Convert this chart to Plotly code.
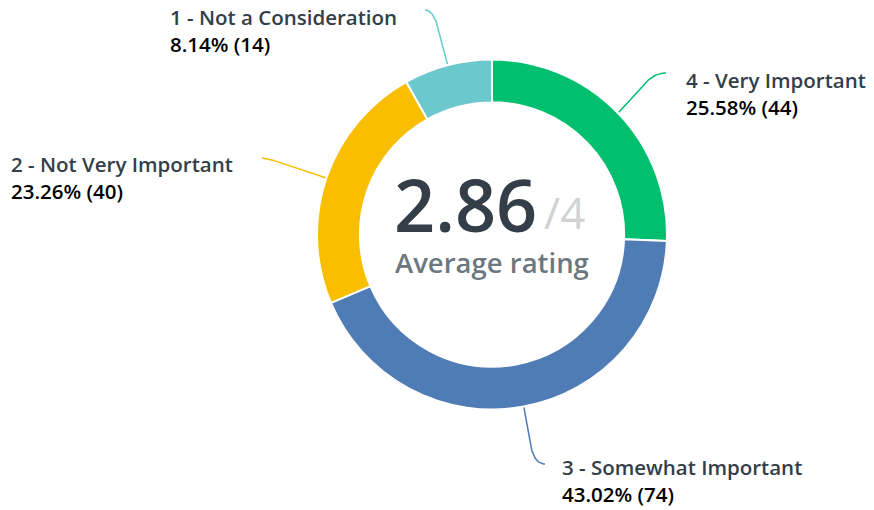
import numpy as np
import plotly.graph_objects as go

# ---- data ----
categories = ["4 - Very Important", "3 - Somewhat Important", "2 - Not Very Important", "1 - Not a Consideration"]
counts = [44, 74, 40, 14]
percent_labels = ["25.58%", "43.02%", "23.26%", "8.14%"]
colors = ["#00BF6F", "#507CB6", "#F9BE00", "#6BC8CD"]
average_rating = "2.86"
rating_max = "/4"
center_caption = "Average rating"

# ---- layout constants (pixels) ----
W, H = 874, 510
CX, CY, R = 492, 234.5, 175
HOLE = 0.755
# label anchor (left x, first-line y), connector end point, side, end-tangent strength
label_pos = {
    "4 - Very Important": (686, 80, 666, 73, 1, 0.3),
    "3 - Somewhat Important": (562, 467, 545, 464, 1, 0.25),
    "2 - Not Very Important": (11, 164, 262, 158, -1, 0.1),
    "1 - Not a Consideration": (170, 17, 425, 10, -1, 0.2),
}
FONT = "Open Sans"

fig = go.Figure()
fig.add_trace(go.Pie(
    values=counts, labels=categories, sort=False, direction="clockwise", rotation=0,
    hole=HOLE, marker=dict(colors=colors, line=dict(color="white", width=2)),
    textinfo="none", hoverinfo="label+value+percent", showlegend=False,
    domain=dict(x=[(CX - R) / W, (CX + R) / W], y=[1 - (CY + R) / H, 1 - (CY - R) / H]),
))

# connectors computed from slice mid-angles
total = sum(counts)
cum = 0
annotations = []
for cat, cnt, pct, col in zip(categories, counts, percent_labels, colors):
    mid = (cum + cnt / 2) / total * 2 * np.pi
    cum += cnt
    d = np.array([np.sin(mid), np.cos(mid)])  # screen dir (x right, y up)
    p0 = np.array([CX + R * d[0], CY - R * d[1]])
    lx, ly, ex, ey, side, k = label_pos[cat]
    p3 = np.array([ex, ey])
    dist = np.linalg.norm(p3 - p0)
    p1 = p0 + 0.5 * dist * np.array([d[0], -d[1]])
    p2 = p3 - side * np.array([k * dist, 0])
    t = np.linspace(0, 1, 60)[:, None]
    pts = ((1 - t) ** 3) * p0 + 3 * ((1 - t) ** 2) * t * p1 + 3 * (1 - t) * (t ** 2) * p2 + (t ** 3) * p3
    fig.add_trace(go.Scatter(x=pts[:, 0], y=pts[:, 1], mode="lines", line=dict(color=col, width=1.5),
                             hoverinfo="skip", showlegend=False, xaxis="x", yaxis="y"))
    annotations.append(dict(x=lx - 2, y=ly, xref="x", yref="y", text=cat, showarrow=False, xanchor="left",
                            yanchor="middle", font=dict(family=FONT, size=20.5, color="#333E48", weight=600)))
    annotations.append(dict(x=lx - 2, y=ly + 27, xref="x", yref="y", text=f"{pct} ({cnt})", showarrow=False,
                            xanchor="left", yanchor="middle", font=dict(family=FONT, size=20.5, color="#000000", weight=600)))

annotations.append(dict(x=539, y=204, xref="x", yref="y", text=average_rating, showarrow=False, xanchor="right",
                        yanchor="middle", font=dict(family=FONT, size=72, color="#333E48", weight=600)))
annotations.append(dict(x=542, y=212, xref="x", yref="y", text=rating_max, showarrow=False, xanchor="left",
                        yanchor="middle", font=dict(family=FONT, size=44, color="#D0D2D3")))
annotations.append(dict(x=CX, y=262, xref="x", yref="y", text=center_caption, showarrow=False, xanchor="center",
                        yanchor="middle", font=dict(family=FONT, size=27.5, color="#6B787F", weight=600)))

fig.update_layout(
    width=W, height=H, margin=dict(l=0, r=0, t=0, b=0), paper_bgcolor="white", plot_bgcolor="rgba(0,0,0,0)",
    xaxis=dict(range=[0, W], visible=False, fixedrange=True, domain=[0, 1]),
    yaxis=dict(range=[H, 0], visible=False, fixedrange=True, domain=[0, 1]),
    annotations=annotations,
)
fig.write_html("out.html", config={"displayModeBar": False},
               post_script="document.body.style.margin='0';document.body.style.overflow='hidden';")
